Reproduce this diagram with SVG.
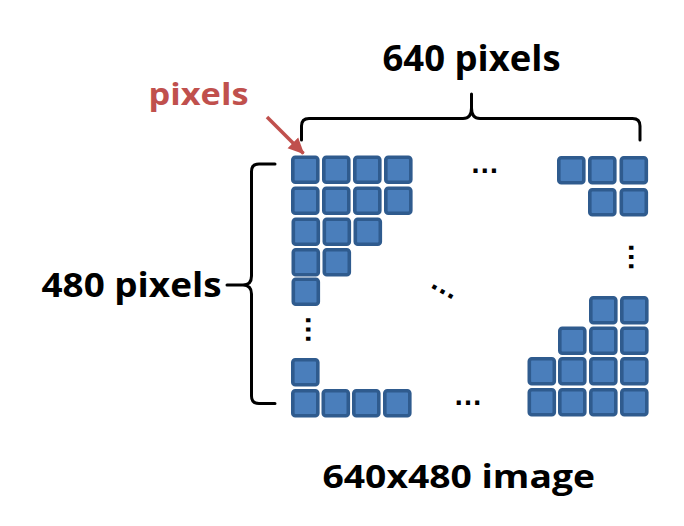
<svg xmlns="http://www.w3.org/2000/svg" width="684" height="526" viewBox="0 0 684 526">
<defs>
<style>
.px{fill:#4A7EBB;stroke:#2F5B8E;stroke-width:3.6}
.lbl{font-family:"Open Sans","Liberation Sans",sans-serif;font-weight:bold;fill:#000}
.red{fill:#C0504D}
.br{fill:none;stroke:#000;stroke-width:3;stroke-linecap:round;stroke-linejoin:round}
.dots{font-family:"Liberation Sans",sans-serif;font-weight:bold;font-size:29px;fill:#000;text-anchor:middle}
</style>
<marker id="ah" markerUnits="userSpaceOnUse" markerWidth="18" markerHeight="18" refX="15" refY="9" orient="auto">
<path d="M0,1.5 L16,9 L0,16.5 Z" fill="#C0504D"/>
</marker>
<rect id="sq" x="1.8" y="1.8" width="25" height="25" rx="2.5" class="px"/>
</defs>
<rect width="684" height="526" fill="#fff"/>

<g id="grid-top-left">
<use href="#sq" x="291" y="155.5"/><use href="#sq" x="322" y="155.5"/><use href="#sq" x="353" y="155.5"/><use href="#sq" x="384" y="155.5"/>
<use href="#sq" x="291" y="186.5"/><use href="#sq" x="322" y="186.5"/><use href="#sq" x="353" y="186.5"/><use href="#sq" x="384" y="186.5"/>
<use href="#sq" x="291.5" y="217.5"/><use href="#sq" x="322.5" y="217.5"/><use href="#sq" x="353.5" y="217.5"/>
<use href="#sq" x="291.5" y="248"/><use href="#sq" x="322.5" y="248"/>
<use href="#sq" x="291.5" y="277.5"/>
</g>
<g id="grid-bottom-left">
<use href="#sq" x="291" y="358"/>
<use href="#sq" x="291" y="389"/><use href="#sq" x="321.5" y="389"/><use href="#sq" x="352" y="389"/><use href="#sq" x="383" y="389"/>
</g>
<g id="grid-top-right">
<use href="#sq" x="557" y="156"/><use href="#sq" x="588" y="156"/><use href="#sq" x="619.5" y="156"/>
<use href="#sq" x="588" y="188"/><use href="#sq" x="619.5" y="188"/>
</g>
<g id="grid-bottom-right">
<use href="#sq" x="589" y="296"/><use href="#sq" x="620" y="296"/>
<use href="#sq" x="558" y="326.5"/><use href="#sq" x="589" y="326.5"/><use href="#sq" x="620" y="326.5"/>
<use href="#sq" x="527.5" y="357"/><use href="#sq" x="558" y="357"/><use href="#sq" x="589" y="357"/><use href="#sq" x="620" y="357"/>
<use href="#sq" x="527.5" y="388"/><use href="#sq" x="558" y="388"/><use href="#sq" x="589" y="388"/><use href="#sq" x="620" y="388"/>
</g>

<g id="ellipses">
<text class="dots" x="484.7" y="173">…</text>
<text class="dots" x="468" y="405.3">…</text>
<text class="dots" x="631" y="259" transform="rotate(90 631 257)">…</text>
<text class="dots" x="307.7" y="331.5" transform="rotate(90 307.7 329.5)">…</text>
<text class="dots" x="442.3" y="293.7" transform="rotate(29 442.3 291.7)">…</text>
</g>

<g id="connectors">
<path class="br" d="M301.5,140 V126 Q301.5,118.5 309,118.5 H463 Q471.5,118.5 471.5,108 V94 M471.5,108 Q471.5,118.5 480,118.5 H632.5 Q640,118.5 640,126 V140"/>
<path class="br" d="M275,164 H259 Q251.5,164 251.5,171.5 V276 Q251.5,285 243,285 Q251.5,285 251.5,294 V396 Q251.5,403.5 259,403.5 H275 M227,285 H243"/>
<line x1="267" y1="117" x2="303.5" y2="153.5" stroke="#C0504D" stroke-width="3.5" marker-end="url(#ah)"/>
</g>

<g id="label-width"><text class="lbl" x="471.5" y="71" font-size="35" text-anchor="middle" textLength="178" lengthAdjust="spacingAndGlyphs">640 pixels</text></g>
<g id="label-height"><text class="lbl" x="41.5" y="297" font-size="34" textLength="180" lengthAdjust="spacingAndGlyphs">480 pixels</text></g>
<g id="label-pixel"><text class="lbl red" x="148.5" y="105" font-size="31" textLength="100" lengthAdjust="spacingAndGlyphs">pixels</text></g>
<g id="label-image"><text class="lbl" x="322.5" y="487.5" font-size="33" textLength="272.5" lengthAdjust="spacingAndGlyphs">640x480 image</text></g>
</svg>
